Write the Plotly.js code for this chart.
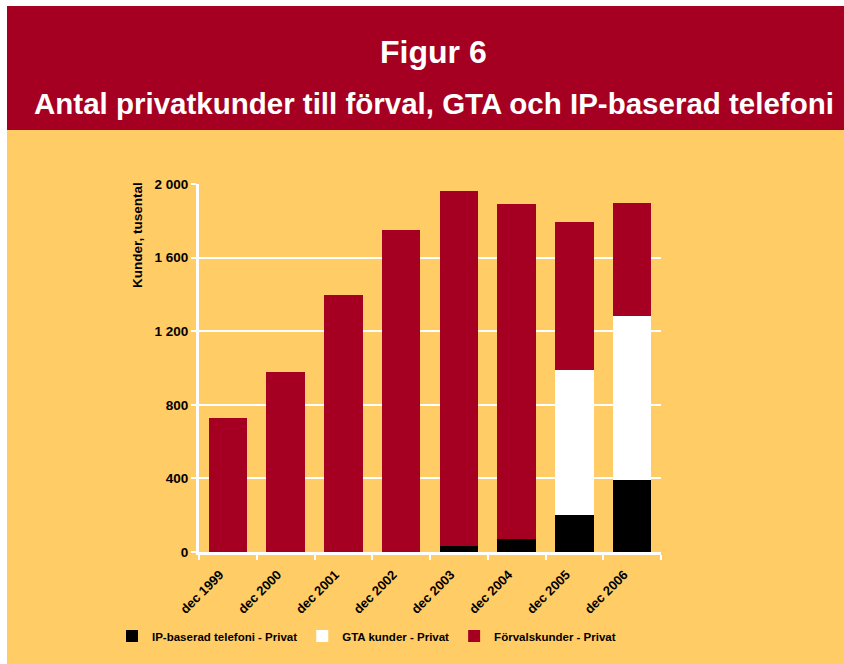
<!DOCTYPE html>
<html>
<head>
<meta charset="utf-8">
<script src="https://cdn.plot.ly/plotly-3.0.1.min.js"></script>
<style>
  html, body { margin: 0; padding: 0; background: #ffffff; }
  #chart { width: 844px; height: 664px; }
</style>
</head>
<body>
<div id="chart"></div>
<script>
const categories = ["dec 1999", "dec 2000", "dec 2001", "dec 2002", "dec 2003", "dec 2004", "dec 2005", "dec 2006"];
const ipValues = [0, 0, 0, 0, 30, 70, 200, 390];
const gtaValues = [0, 0, 0, 0, 0, 0, 790, 893];
const forvalValues = [730, 980, 1395, 1750, 1930, 1820, 805, 612];
const seriesNames = ["IP-baserad telefoni - Privat", "GTA kunder - Privat", "Förvalskunder - Privat"];
const titleMain = "Figur 6";
const titleSub = "Antal privatkunder till förval, GTA och IP-baserad telefoni";
const yTitle = "Kunder, tusental";

const RED = "#A50021";
const YELLOW = "#FFCC66";
const FONT = "Liberation Sans, Arial, sans-serif";

// plot area in pixels: x 199..661, y 184..552
const L = 199, R = 844 - 661, T = 184, B = 664 - 552;
const pw = 844 - L - R, ph = 664 - T - B;
const px = v => (v - L) / pw;
const py = v => (664 - B - v) / ph;

const traces = [
  { type: "bar", name: seriesNames[0], x: categories, y: ipValues, marker: { color: "#000000" } },
  { type: "bar", name: seriesNames[1], x: categories, y: gtaValues, marker: { color: "#FFFFFF" } },
  { type: "bar", name: seriesNames[2], x: categories, y: forvalValues, marker: { color: RED } }
];

const layout = {
  width: 844, height: 664,
  margin: { l: L, r: R, t: T, b: B, pad: 0 },
  paper_bgcolor: "#ffffff",
  plot_bgcolor: "rgba(0,0,0,0)",
  barmode: "stack",
  bargap: 0.33,
  separators: ", ",
  showlegend: true,
  font: { family: FONT, color: "#000000", size: 11, weight: 700 },
  xaxis: {
    type: "category",
    tickson: "boundaries",
    ticks: "outside", ticklen: 5, tickwidth: 2, tickcolor: "#ffffff",
    tickangle: -45,
    ticklabelshift: -8,
    ticklabelstandoff: 7,
    showline: true, linecolor: "#ffffff", linewidth: 3,
    showgrid: false,
    tickfont: { family: FONT, size: 13, weight: 700, color: "#000000" },
    fixedrange: true
  },
  yaxis: {
    range: [0, 2000],
    tickvals: [0, 400, 800, 1200, 1600, 2000],
    tickformat: ",d",
    ticks: "outside", ticklen: 5, tickwidth: 2, tickcolor: "#ffffff",
    showline: true, linecolor: "#ffffff", linewidth: 3,
    showgrid: true, gridcolor: "#ffffff", gridwidth: 2,
    zeroline: false,
    tickfont: { family: FONT, size: 13.5, weight: 700, color: "#000000" },
    fixedrange: true
  },
  legend: {
    orientation: "h",
    x: px(112), xanchor: "left",
    y: py(636), yanchor: "middle",
    bgcolor: "rgba(0,0,0,0)",
    font: { family: FONT, size: 11.5, weight: 700, color: "#000000" },
    traceorder: "normal"
  },
  shapes: [
    { type: "rect", xref: "paper", yref: "paper", layer: "below",
      x0: px(7), x1: px(844), y0: py(130), y1: py(664), fillcolor: YELLOW, line: { width: 0 } },
    { type: "rect", xref: "paper", yref: "paper", layer: "below",
      x0: px(7), x1: px(844), y0: py(6), y1: py(130), fillcolor: RED, line: { width: 0 } }
  ],
  annotations: [
    { text: titleMain, xref: "paper", yref: "paper", x: px(433), y: py(52), xanchor: "center", yanchor: "middle",
      showarrow: false, font: { family: FONT, size: 32, weight: 700, color: "#ffffff" } },
    { text: titleSub, xref: "paper", yref: "paper", x: px(434), y: py(103), xanchor: "center", yanchor: "middle",
      showarrow: false, font: { family: FONT, size: 29.5, weight: 700, color: "#ffffff" } },
    { text: yTitle, xref: "paper", yref: "paper", x: px(137), y: py(235), xanchor: "center", yanchor: "middle",
      textangle: -90, showarrow: false, font: { family: FONT, size: 13.5, weight: 700, color: "#000000" } }
  ]
};

Plotly.newPlot("chart", traces, layout, { displayModeBar: false, staticPlot: true });
</script>
</body>
</html>
